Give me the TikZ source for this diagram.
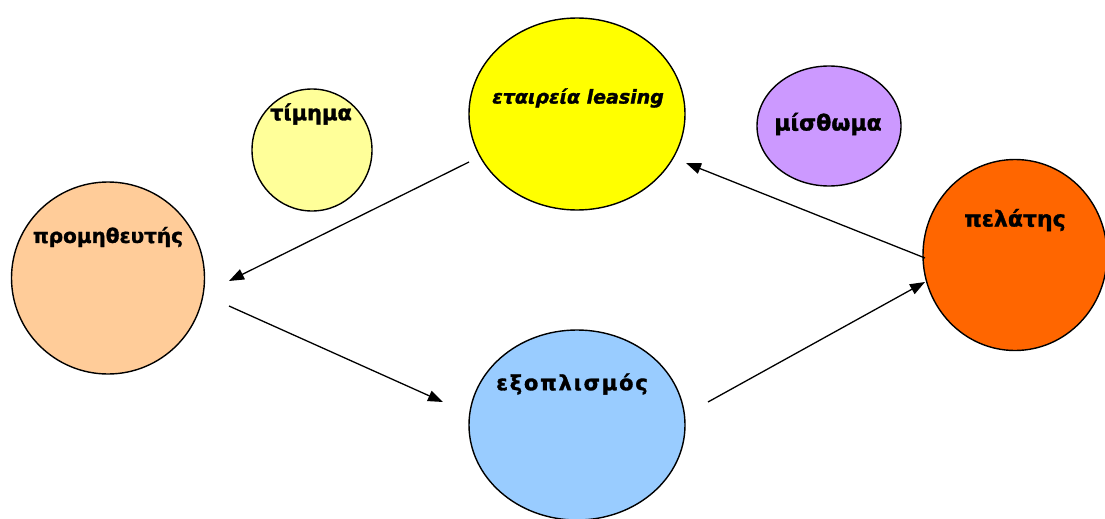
\documentclass[tikz,border=0pt]{standalone}
\usepackage{fontspec}
\setmainfont{DejaVu Sans}
\newfontfamily\heavyfont[BoldFeatures={FakeBold=1.5},BoldItalicFeatures={FakeBold=1.5}]{DejaVu Sans}
\usetikzlibrary{shapes.geometric,arrows.meta}
\definecolor{cTim}{HTML}{FFFF99}
\definecolor{cProm}{HTML}{FFCC99}
\definecolor{cEtai}{HTML}{FFFF00}
\definecolor{cMisth}{HTML}{CC99FF}
\definecolor{cPel}{HTML}{FF6600}
\definecolor{cExo}{HTML}{99CCFF}
\newcommand{\lsp}{\kern1.8pt}
\begin{document}
\begin{tikzpicture}[x=1pt,y=-1pt,
  blob/.style={ellipse,draw=black,line width=1.4pt,inner sep=0pt},
  lbl/.style={font=\heavyfont\fontsize{21}{21}\selectfont\bfseries,inner sep=0pt},
  conn/.style={line width=1.3pt,-{Triangle[length=15pt,width=11pt]}}]
\useasboundingbox (0,0) rectangle (1105,519);
% circles
\node[blob,fill=cTim,minimum width=120pt,minimum height=122pt] (tim) at (312,150) {};
\node[blob,fill=cProm,minimum width=193pt,minimum height=192pt] (prom) at (108,278) {};
\node[blob,fill=cEtai,minimum width=216pt,minimum height=192pt] (etai) at (577,114) {};
\node[blob,fill=cMisth,minimum width=144pt,minimum height=120pt] (misth) at (829,126) {};
\node[blob,fill=cPel,minimum width=184pt,minimum height=191pt] (pel) at (1015,255) {};
\node[blob,fill=cExo,minimum width=216pt,minimum height=190pt] (exo) at (577,425) {};
% labels
\node[lbl] (ttim) at (311,114) {τίμημα};
\node[lbl,font=\heavyfont\fontsize{20}{20}\selectfont\bfseries] (tprom) at (108,237) {προμηθευτής};
\node[lbl,font=\heavyfont\fontsize{19}{19}\selectfont\bfseries\itshape] (tetai) at (578,98) {εταιρεία leasing};
\node[lbl,font=\heavyfont\fontsize{22}{22}\selectfont\bfseries] (tmisth) at (828,124) {μίσθωμα};
\node[lbl,font=\heavyfont\fontsize{22}{22}\selectfont\bfseries] (tpel) at (1015,220) {πελάτης};
\node[lbl] (texo) at (572,384) {ε\lsp ξ\lsp ο\lsp π\lsp λ\lsp ι\lsp σ\lsp μ\lsp ό\lsp ς};
% connector ends
\coordinate (a1s) at (469,162);
\coordinate (a1e) at (229,281);
\coordinate (a2s) at (229,306);
\coordinate (a2e) at (443,402);
\coordinate (a3s) at (708,402);
\coordinate (a3e) at (925,282);
\coordinate (a4s) at (925,258);
\coordinate (a4e) at (686,163);
\draw[conn] (a1s) -- (a1e);
\draw[conn] (a2s) -- (a2e);
\draw[conn] (a3s) -- (a3e);
\draw[conn] (a4s) -- (a4e);
\end{tikzpicture}
\end{document}
